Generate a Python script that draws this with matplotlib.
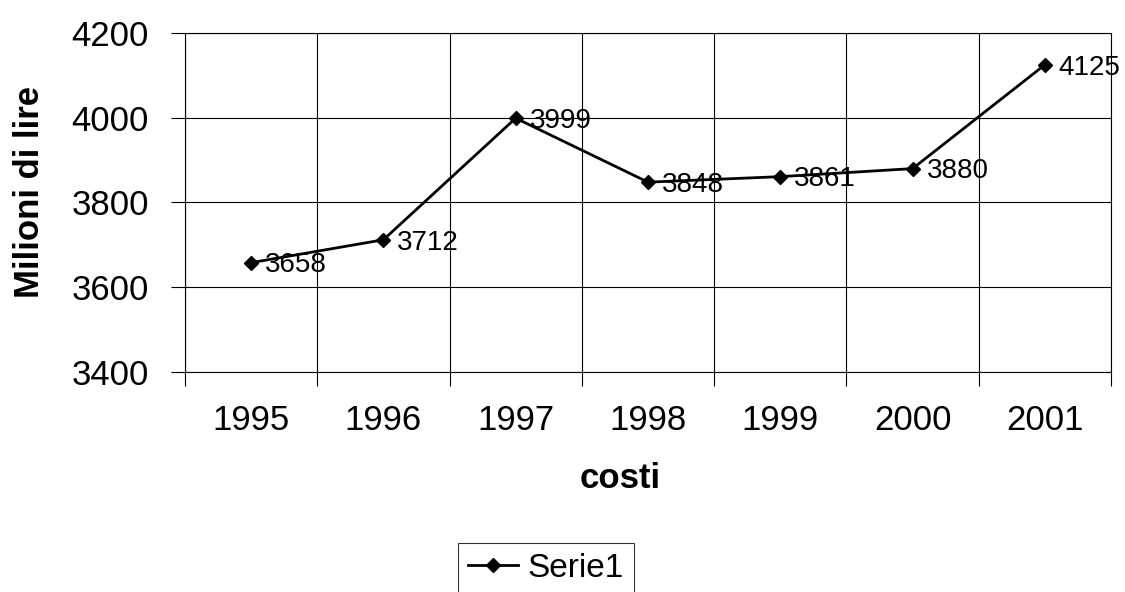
import matplotlib
matplotlib.use("Agg")
import matplotlib.pyplot as plt
from matplotlib.ticker import FixedLocator

years = ["1995", "1996", "1997", "1998", "1999", "2000", "2001"]
values = [3658, 3712, 3999, 3848, 3861, 3880, 4125]
series_name = "Serie1"
y_ticks = [3400, 3600, 3800, 4000, 4200]

plt.rcParams['font.family'] = ['Liberation Sans', 'DejaVu Sans']

fig = plt.figure(figsize=(11.25, 5.92), dpi=100)
ax = fig.add_axes([0.1644, 0.3716, 0.8232, 0.5727])

x = list(range(len(years)))
ax.plot(x, values, color='black', lw=2, marker='D', ms=7, label=series_name)
for xi, v in zip(x, values):
    ax.annotate(str(v), (xi, v), xytext=(10, -2), textcoords='offset points',
                ha='left', va='center', fontsize=20)

ax.set_xlim(-0.5, len(years) - 0.5)
ax.set_ylim(3400, 4200)
ax.set_yticks(y_ticks)
ax.set_xticks(x)
ax.set_xticklabels(years)
ax.xaxis.set_minor_locator(FixedLocator([i - 0.5 for i in range(len(years) + 1)]))
ax.tick_params(axis='x', which='major', length=0, pad=23, labelsize=25)
ax.tick_params(axis='x', which='minor', length=10, width=0.8, direction='out')
ax.tick_params(axis='y', which='major', length=10, width=0.8, labelsize=25, pad=16)
ax.grid(True, which='minor', axis='x', color='black', lw=0.8)
ax.grid(True, which='major', axis='y', color='black', lw=0.8)
for s in ax.spines.values():
    s.set_linewidth(0.8)

ax.set_xlabel("costi", fontsize=25, fontweight='bold')
ax.xaxis.set_label_coords(0.47, -0.265)
ax.set_ylabel("Milioni di lire", fontsize=25, fontweight='bold')
ax.yaxis.set_label_coords(-0.15, 0.53)

leg = fig.legend(loc='upper left', bbox_to_anchor=(0.407, 0.083), fontsize=24,
                 frameon=True, fancybox=False, edgecolor='black',
                 handlelength=1.5, handletextpad=0.3, borderpad=0.3,
                 borderaxespad=0)
leg.get_frame().set_linewidth(0.8)

fig.savefig("out.png", dpi=100)
